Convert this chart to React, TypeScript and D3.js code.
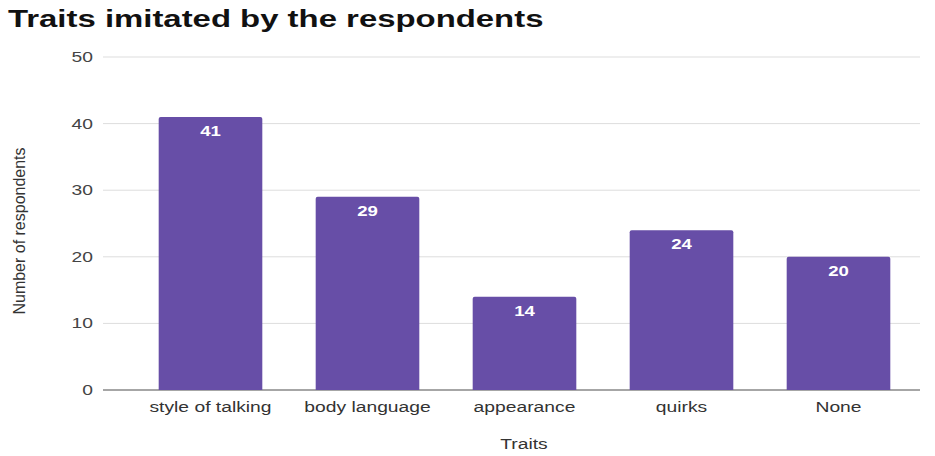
import React from "react";
import * as d3 from "d3";

const categories = ["style of talking", "body language", "appearance", "quirks", "None"];
const values = [41, 29, 14, 24, 20];
const yTicks = [0, 10, 20, 30, 40, 50];
const title = "Traits imitated by the respondents";
const xTitle = "Traits";
const yTitle = "Number of respondents";

const SX = 1.33;

function T(props: { x: number; y: number; sx?: number; rot?: boolean; children: any; [k: string]: any }) {
  const { x, y, sx = SX, rot, children, ...rest } = props;
  const tr = rot
    ? `translate(${x},${y}) rotate(-90) scale(1,${sx})`
    : `translate(${x},${y}) scale(${sx},1)`;
  return (
    <text transform={tr} {...rest}>
      {children}
    </text>
  );
}

export default function App() {
  const W = 935, H = 456;
  const x = d3.scaleBand<string>().domain(categories).range([132, 917]).paddingInner(0.34).paddingOuter(0.17);
  const y = d3.scaleLinear().domain([0, 50]).range([390, 57]);
  const font = "'Liberation Sans', Arial, sans-serif";
  return (
    <svg width={W} height={H} style={{ position: "absolute", left: 0, top: 0 }} fontFamily={font}>
      <rect width={W} height={H} fill="#fff" />
      <T x={8} y={27} sx={1.4} fontSize={23.5} fontWeight="bold" fill="#111">{title}</T>
      {yTicks.map((t) => (
        <g key={t}>
          <line x1={103} x2={920} y1={y(t)} y2={y(t)} stroke={t === 0 ? "#888" : "#ddd"} strokeWidth={t === 0 ? 1.5 : 1} />
          <T x={93} y={y(t) + 5} textAnchor="end" fontSize={14.5} fill="#444">{t}</T>
        </g>
      ))}
      {categories.map((c, i) => {
        const bx = x(c)!;
        const bw = x.bandwidth();
        const top = y(values[i]);
        return (
          <g key={c}>
            <path
              d={`M${bx},${y(0)} V${top + 2} Q${bx},${top} ${bx + 2},${top} H${bx + bw - 2} Q${bx + bw},${top} ${bx + bw},${top + 2} V${y(0)} Z`}
              fill="#674ea7"
            />
            <T x={bx + bw / 2} y={top + 19} textAnchor="middle" fontSize={14} fontWeight="bold" fill="#fff">{values[i]}</T>
            <T x={bx + bw / 2} y={412} textAnchor="middle" fontSize={14.5} fill="#333">{c}</T>
          </g>
        );
      })}
      <T x={524} y={449} textAnchor="middle" fontSize={14.5} fill="#333">{xTitle}</T>
      <T x={24.5} y={231} rot sx={1.05} textAnchor="middle" fontSize={16} fill="#333">{yTitle}</T>
    </svg>
  );
}
